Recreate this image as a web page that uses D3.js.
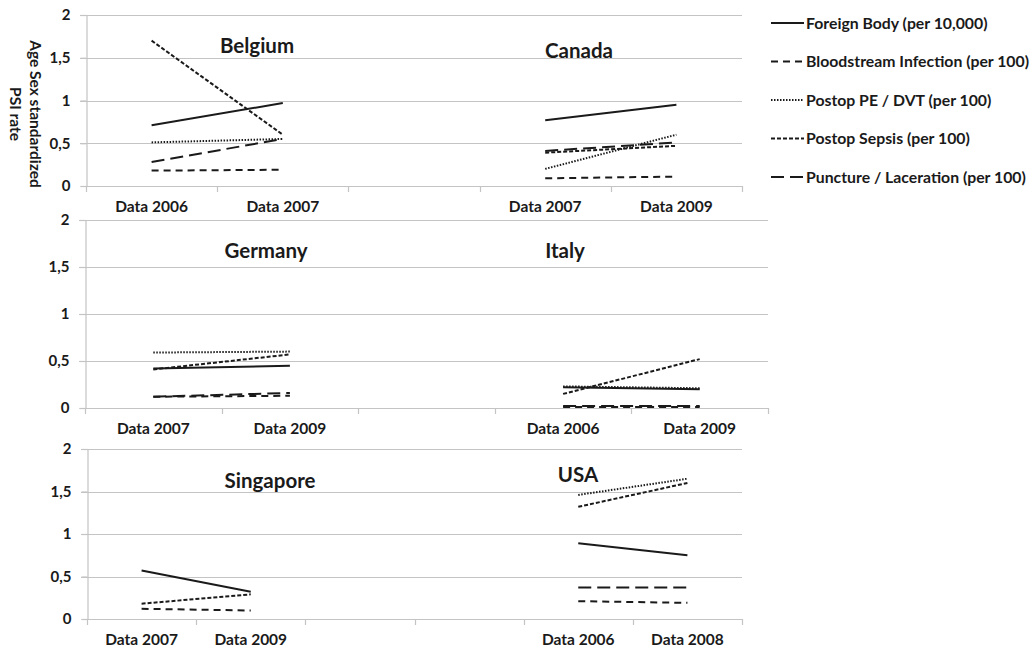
<!DOCTYPE html>
<html>
<head>
<meta charset="utf-8">
<script src="https://cdn.jsdelivr.net/npm/d3@7/dist/d3.min.js"></script>
<style>
  html, body { margin: 0; padding: 0; background: #ffffff; }
  svg { display: block; }
  text { font-family: Lato, "Open Sans", sans-serif; font-weight: bold; fill: #1a1a1a; }
</style>
</head>
<body>
<svg id="chart" width="1035" height="650"></svg>
<script>
// ---------------- DATA ----------------
const seriesNames = [
  "Foreign Body (per 10,000)",
  "Bloodstream Infection (per 100)",
  "Postop PE / DVT (per 100)",
  "Postop Sepsis (per 100)",
  "Puncture / Laceration (per 100)"
];
const yTicks = [0, 0.5, 1, 1.5, 2];
const yTickLabels = ["0", "0,5", "1", "1,5", "2"];

// Row 1: Belgium | Canada
const row1Categories = ["Data 2006", "Data 2007", "", "Data 2007", "Data 2009"];
const row1Titles = ["Belgium", "Canada"];
const row1ForeignBody  = [0.71, 0.97, null, 0.77, 0.95];
const row1Bloodstream  = [0.18, 0.19, null, 0.09, 0.11];
const row1PostopPE     = [0.51, 0.55, null, 0.20, 0.60];
const row1PostopSepsis = [1.70, 0.60, null, 0.39, 0.47];
const row1Puncture     = [0.28, 0.55, null, 0.41, 0.51];

// Row 2: Germany | Italy
const row2Categories = ["Data 2007", "Data 2009", "", "Data 2006", "Data 2009"];
const row2Titles = ["Germany", "Italy"];
const row2ForeignBody  = [0.42, 0.45, null, 0.22, 0.20];
const row2Bloodstream  = [0.12, 0.13, null, 0.01, 0.01];
const row2PostopPE     = [0.59, 0.60, null, 0.23, 0.21];
const row2PostopSepsis = [0.41, 0.57, null, 0.15, 0.52];
const row2Puncture     = [0.12, 0.16, null, 0.02, 0.02];

// Row 3: Singapore | USA
const row3Categories = ["Data 2007", "Data 2009", "", "", "Data 2006", "Data 2008"];
const row3Titles = ["Singapore", "USA"];
const row3ForeignBody  = [0.57, 0.32, null, null, 0.89, 0.75];
const row3Bloodstream  = [0.12, 0.10, null, null, 0.21, 0.19];
const row3PostopPE     = [null, null, null, null, 1.46, 1.65];
const row3PostopSepsis = [0.18, 0.29, null, null, 1.32, 1.60];
const row3Puncture     = [null, null, null, null, 0.37, 0.37];

// ---------------- STYLES / LAYOUT ----------------
const dashStyles = [null, "7,5", "1.5,1.5", "4,2", "13,6"];
const lineWidths = [2, 2, 2, 2, 2];
const lineColor = "#1a1a1a";
const gridColor = "#c4c4c4";

const rows = [
  { top: 15, bottom: 186, left: 86, right: 742, cats: row1Categories, titles: row1Titles,
    series: [row1ForeignBody, row1Bloodstream, row1PostopPE, row1PostopSepsis, row1Puncture],
    titlePos: [[257, 53], [579, 58]] },
  { top: 220, bottom: 408, left: 85, right: 768, cats: row2Categories, titles: row2Titles,
    series: [row2ForeignBody, row2Bloodstream, row2PostopPE, row2PostopSepsis, row2Puncture],
    titlePos: [[266, 258], [565, 258]] },
  { top: 449, bottom: 619, left: 87, right: 742, cats: row3Categories, titles: row3Titles,
    series: [row3ForeignBody, row3Bloodstream, row3PostopPE, row3PostopSepsis, row3Puncture],
    titlePos: [[270, 488], [578, 482]] }
];

const svg = d3.select("#chart");

rows.forEach((row, ri) => {
  const g = svg.append("g");
  const x = d3.scaleBand()
    .domain(row.cats.map((c, i) => i))
    .range([row.left, row.right])
    .padding(0);
  const y = d3.scaleLinear().domain([0, 2]).range([row.bottom, row.top]);

  // gridlines
  g.append("g").selectAll("line").data(yTicks.filter(t => t > 0)).join("line")
    .attr("x1", row.left - 6).attr("x2", row.right)
    .attr("y1", d => Math.round(y(d)) + 0.5).attr("y2", d => Math.round(y(d)) + 0.5)
    .attr("stroke", gridColor).attr("stroke-width", 1.2);

  // y axis
  const yAxis = d3.axisLeft(y).tickValues(yTicks)
    .tickFormat((d, i) => yTickLabels[i]).tickSize(6).tickPadding(10);
  const ya = g.append("g").attr("transform", `translate(${row.left + 0.5},0)`).call(yAxis);
  ya.select(".domain").attr("stroke", gridColor).attr("stroke-width", 1.2);
  ya.selectAll(".tick line").attr("stroke", gridColor).attr("stroke-width", 1.2);
  ya.selectAll(".tick text").attr("font-size", 15).attr("fill", "#1a1a1a")
    .attr("font-family", "Lato, sans-serif").attr("font-weight", "bold");

  // x axis line
  g.append("line")
    .attr("x1", row.left).attr("x2", row.right)
    .attr("y1", Math.round(y(0)) + 0.5).attr("y2", Math.round(y(0)) + 0.5)
    .attr("stroke", gridColor).attr("stroke-width", 1.2);
  // boundary ticks
  const bounds = row.cats.map((c, i) => x(i)).concat([x.range()[1]]);
  g.append("g").selectAll("line").data(bounds).join("line")
    .attr("x1", d => Math.round(d) + 0.5).attr("x2", d => Math.round(d) + 0.5)
    .attr("y1", y(0)).attr("y2", y(0) + 6)
    .attr("stroke", gridColor).attr("stroke-width", 1.2);
  // category labels
  const xAxis = d3.axisBottom(x).tickSize(0).tickPadding(15)
    .tickFormat(i => row.cats[i]);
  const xa = g.append("g").attr("transform", `translate(0,${y(0)})`).call(xAxis);
  xa.select(".domain").remove();
  xa.selectAll(".tick text").attr("font-size", 15.5).attr("fill", "#1a1a1a")
    .attr("font-family", "Lato, sans-serif").attr("font-weight", "bold");

  // series lines
  const line = d3.line()
    .defined(d => d.v != null)
    .x(d => x(d.i) + x.bandwidth() / 2)
    .y(d => y(d.v));
  // draw order: sepsis, PE, bloodstream, puncture, foreign body on top
  [3, 2, 1, 4, 0].forEach(si => {
    const vals = row.series[si].map((v, i) => ({ i, v }));
    g.append("path").datum(vals)
      .attr("d", line)
      .attr("fill", "none")
      .attr("stroke", lineColor)
      .attr("stroke-width", lineWidths[si])
      .attr("stroke-dasharray", dashStyles[si])
      .attr("stroke-linecap", "butt");
  });

  // panel titles
  row.titles.forEach((t, k) => {
    g.append("text").text(t)
      .attr("x", row.titlePos[k][0]).attr("y", row.titlePos[k][1])
      .attr("text-anchor", "middle")
      .attr("font-size", 20.5);
  });
});

// y axis title
const yt = svg.append("text")
  .attr("transform", "translate(30,114) rotate(90)")
  .attr("text-anchor", "middle")
  .attr("font-size", 15.5);
yt.append("tspan").attr("x", 0).attr("dy", 0).text("Age Sex standardized");
yt.append("tspan").attr("x", 0).attr("dy", 20).text("PSI rate");

// legend
const legend = svg.append("g");
const legendY = d3.scalePoint().domain(seriesNames).range([23, 177]);
seriesNames.forEach((name, si) => {
  const yy = legendY(name);
  legend.append("line")
    .attr("x1", 771).attr("x2", 804)
    .attr("y1", yy).attr("y2", yy)
    .attr("stroke", lineColor).attr("stroke-width", 2)
    .attr("stroke-dasharray", dashStyles[si]);
  legend.append("text").text(name)
    .attr("x", 806).attr("y", yy).attr("dy", "0.35em")
    .attr("font-size", 15.8);
});
</script>
</body>
</html>
